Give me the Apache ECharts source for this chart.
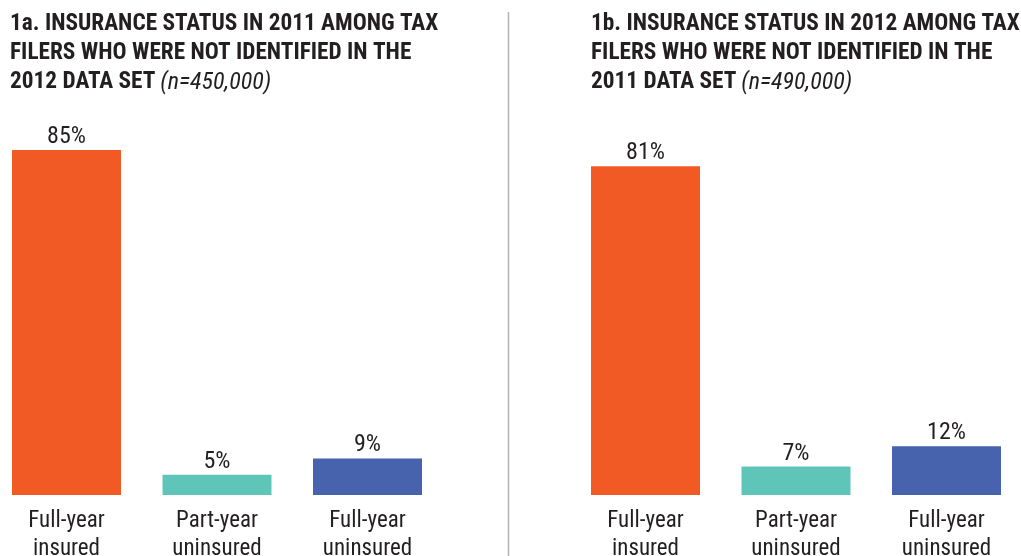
<!DOCTYPE html>
<html>
<head>
<meta charset="utf-8">
<script src="https://cdn.jsdelivr.net/npm/echarts@6/dist/echarts.min.js"></script>
<style>
html,body{margin:0;padding:0;background:#fff;}
#chart{width:1021px;height:556px;}
</style>
</head>
<body>
<div id="chart"></div>
<script>
const categories = ['Full-year\ninsured', 'Part-year\nuninsured', 'Full-year\nuninsured'];
const values2011 = [85, 5, 9];
const values2012 = [81, 7, 12];
const barColors = ['#F15A24', '#5FC5B8', '#4863AD'];
const titleA = ['1a. INSURANCE STATUS IN 2011 AMONG TAX', 'FILERS WHO WERE NOT IDENTIFIED IN THE', '2012 DATA SET'];
const nA = '(n=450,000)';
const titleB = ['1b. INSURANCE STATUS IN 2012 AMONG TAX', 'FILERS WHO WERE NOT IDENTIFIED IN THE', '2011 DATA SET'];
const nB = '(n=490,000)';

const FONT = '"Roboto Condensed", "Liberation Sans Narrow", "Arial Narrow", Roboto, sans-serif';
const TXT = '#231F20';

const chart = echarts.init(document.getElementById('chart'), null, {renderer: 'canvas'});

function titleText(lines, n) {
  return '{b|' + lines[0] + '}\n{b|' + lines[1] + '}\n{b|' + lines[2] + '} {i|' + n + '}';
}
const titleRich = {
  b: {fontFamily: FONT, fontWeight: 'bold', fontSize: 23.3, lineHeight: 29, color: TXT},
  i: {fontFamily: FONT, fontStyle: 'italic', fontWeight: 'normal', fontSize: 24, lineHeight: 29, color: TXT}
};

function xAx(gi) {
  return {
    type: 'category', gridIndex: gi, data: categories,
    axisLine: {show: false}, axisTick: {show: false}, splitLine: {show: false},
    axisLabel: {fontFamily: FONT, fontSize: 23, lineHeight: 28, color: TXT, margin: 12, interval: 0}
  };
}
function yAx(gi) {
  return {type: 'value', gridIndex: gi, min: 0, max: 85, show: false, splitLine: {show: false}};
}
function ser(i, vals) {
  return {
    type: 'bar', xAxisIndex: i, yAxisIndex: i, barWidth: 109,
    data: vals.map((v, k) => ({value: v, itemStyle: {color: barColors[k]}})),
    label: {show: true, position: 'top', distance: 1, formatter: '{c}%', fontFamily: FONT, fontSize: 24, color: TXT},
    silent: true
  };
}

chart.setOption({
  animation: false,
  backgroundColor: '#ffffff',
  title: [
    {text: titleText(titleA, nA), left: 10, top: 10, padding: 0, textStyle: {rich: titleRich}},
    {text: titleText(titleB, nB), left: 591, top: 10, padding: 0, textStyle: {rich: titleRich}}
  ],
  grid: [
    {left: -8.75, width: 451.5, top: 150, height: 345, outerBoundsMode: 'none'},
    {left: 570.25, width: 451.5, top: 150, height: 345, outerBoundsMode: 'none'}
  ],
  xAxis: [xAx(0), xAx(1)],
  yAxis: [yAx(0), yAx(1)],
  series: [ser(0, values2011), ser(1, values2012)],
  graphic: [
    {type: 'line', shape: {x1: 508.5, y1: 12, x2: 508.5, y2: 556}, style: {stroke: '#B3B3B3', lineWidth: 1.5}, silent: true}
  ]
});
</script>
</body>
</html>
